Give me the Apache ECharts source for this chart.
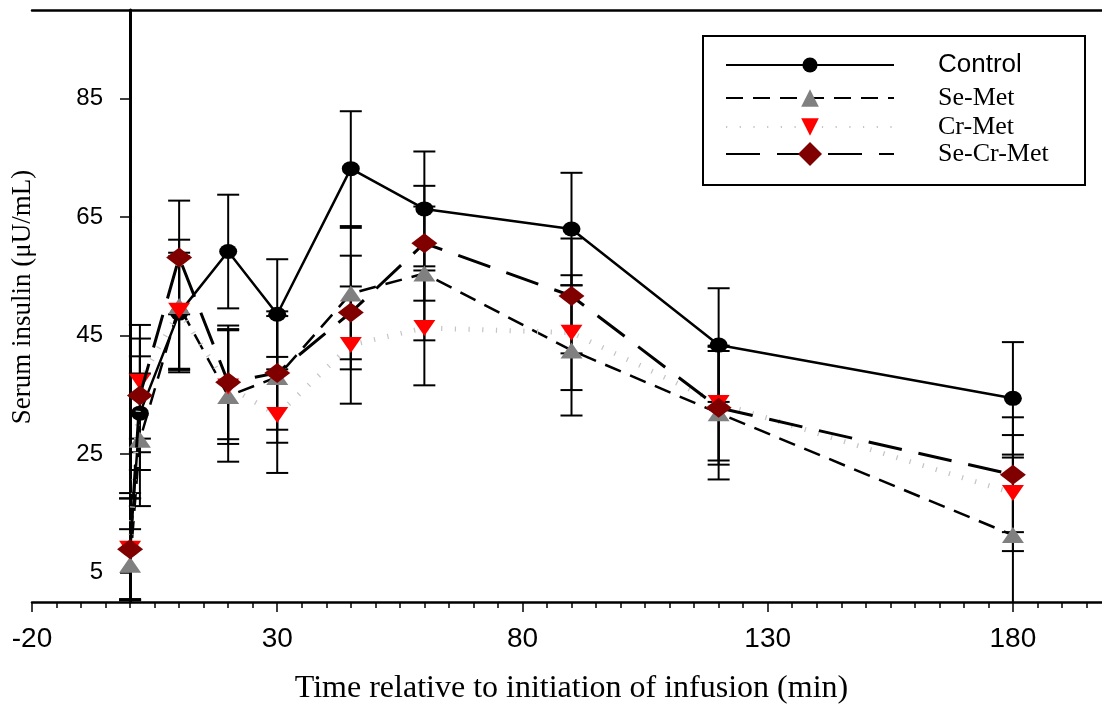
<!DOCTYPE html>
<html>
<head>
<meta charset="utf-8">
<title>Serum insulin</title>
<script src="https://cdn.jsdelivr.net/npm/echarts@6/dist/echarts.min.js"></script>
<style>
  html, body { margin: 0; padding: 0; background: #fff; }
  #chart { width: 1102px; height: 704px; }
</style>
</head>
<body>
<div id="chart"></div>
<script>
// sampling times (min)
const times = [0, 2, 10, 20, 30, 45, 60, 90, 120, 180]

// means and SEM
const control = [9.0, 31.9, 48.8, 59.2, 48.6, 73.2, 66.4, 63.0, 43.4, 34.4]
const controlSem = [9.4, 9.6, 9.6, 9.6, 9.3, 9.7, 9.7, 9.5, 9.6, 9.5]
const seMet = [6.3, 27.4, 50.0, 34.8, 38.0, 52.1, 55.5, 42.5, 31.9, 11.3]
const seMetSem = [6.0, 11.2, 11.2, 11.1, 11.1, 11.1, 11.3, 11.0, 11.2, 13.1]
const crMet = [9.0, 37.2, 49.2, 36.4, 31.6, 43.4, 46.3, 45.5, 33.6, 18.4]
const crMetSem = [8.5, 9.6, 9.8, 9.7, 9.8, 9.9, 9.7, 9.7, 9.7, 9.8]
const seCrMet = [8.9, 34.9, 58.2, 37.1, 38.7, 48.9, 60.6, 51.7, 32.8, 21.5]
const seCrMetSem = [8.6, 9.6, 9.6, 9.6, 9.6, 9.6, 9.7, 9.7, 9.6, 9.7]

// tick labels
const xTicks = [-20, 30, 80, 130, 180]
const yTicks = [5, 25, 45, 65, 85]

const chart = echarts.init(document.getElementById('chart'))

const pairs = vals => times.map((t, i) => [t, vals[i]])
const errs = (vals, sem) => times.map((t, i) => [t, vals[i] - sem[i], vals[i] + sem[i]])

// vertical bar with caps at both ends
function renderErr (params, api) {
  const x = api.value(0)
  const lo = api.coord([x, api.value(1)])
  const hi = api.coord([x, api.value(2)])
  const half = 11
  const style = { stroke: '#000', lineWidth: 2 }
  return {
    type: 'group',
    children: [
      { type: 'line', shape: { x1: lo[0], y1: lo[1], x2: hi[0], y2: hi[1] }, style },
      { type: 'line', shape: { x1: hi[0] - half, y1: hi[1], x2: hi[0] + half, y2: hi[1] }, style },
      { type: 'line', shape: { x1: lo[0] - half, y1: lo[1], x2: lo[0] + half, y2: lo[1] }, style }
    ]
  }
}

function errSeries (vals, sem) {
  return {
    type: 'custom',
    renderItem: renderErr,
    encode: { x: 0, y: [1, 2] },
    data: errs(vals, sem),
    clip: true,
    z: 1,
    silent: true
  }
}

const serif = "'Liberation Serif', 'Times New Roman', serif"
const sans = "'Liberation Sans', Arial, sans-serif"

function legendAt (name, top, font, size) {
  return {
    data: [name],
    left: 725,
    top: top,
    padding: 0,
    itemWidth: 168,
    itemHeight: size,
    selectedMode: false,
    textStyle: { fontFamily: font, fontSize: 26, color: '#000', padding: [0, 0, 0, 39] }
  }
}

const option = {
  animation: false,
  backgroundColor: '#fff',
  grid: { left: 32, right: -9, top: 10, bottom: 102, outerBoundsMode: 'none' },
  legend: [
    legendAt('Control', 52, sans, 19),
    legendAt('Se-Met', 85, serif, 22),
    legendAt('Cr-Met', 114, serif, 22),
    legendAt('Se-Cr-Met', 141, serif, 30)
  ],
  graphic: [{
    type: 'rect',
    shape: { x: 703, y: 36, width: 382, height: 149 },
    style: { fill: 'none', stroke: '#000', lineWidth: 2 }
  }],
  xAxis: [
    {
      // minor ticks every 5 min
      type: 'value',
      min: -20,
      max: 200,
      interval: 5,
      position: 'bottom',
      axisLine: { onZero: false, lineStyle: { color: '#000', width: 2.5 } },
      axisTick: { length: 6, lineStyle: { color: '#000', width: 1.5 } },
      axisLabel: { show: false },
      splitLine: { show: false },
      name: 'Time relative to initiation of infusion (min)',
      nameLocation: 'middle',
      nameGap: 71,
      nameTextStyle: { fontFamily: serif, fontSize: 32, color: '#000' }
    },
    {
      type: 'value',
      min: -20,
      max: 200,
      position: 'bottom',
      axisLine: { show: false, onZero: false },
      axisTick: { customValues: xTicks, length: 10, lineStyle: { color: '#000', width: 1.5 } },
      axisLabel: { customValues: xTicks, margin: 23, fontFamily: sans, fontSize: 28, color: '#000' },
      splitLine: { show: false }
    },
    {
      // top frame line
      type: 'value',
      min: -20,
      max: 200,
      position: 'top',
      axisLine: { onZero: false, lineStyle: { color: '#000', width: 2.5 } },
      axisTick: { show: false },
      axisLabel: { show: false },
      splitLine: { show: false }
    }
  ],
  yAxis: {
    type: 'value',
    min: 0,
    max: 100,
    // axis drawn at time 0
    offset: -98,
    axisLine: { onZero: false, lineStyle: { color: '#000', width: 3 } },
    axisTick: { customValues: yTicks, length: 10, lineStyle: { color: '#000', width: 1.5 } },
    axisLabel: { customValues: yTicks, margin: 27, fontFamily: sans, fontSize: 24, color: '#000' },
    splitLine: { show: false },
    name: 'Serum insulin (μU/mL)',
    nameLocation: 'middle',
    nameGap: 94,
    nameTextStyle: { fontFamily: serif, fontSize: 27, color: '#000', padding: [0, 0, 0, 18] }
  },
  series: [
    errSeries(control, controlSem),
    errSeries(seMet, seMetSem),
    errSeries(crMet, crMetSem),
    errSeries(seCrMet, seCrMetSem),
    {
      name: 'Control',
      type: 'line',
      data: pairs(control),
      symbol: 'circle',
      symbolSize: [18, 15],
      itemStyle: { color: '#000' },
      lineStyle: { color: '#000', width: 2.5 },
      z: 3
    },
    {
      name: 'Se-Met',
      type: 'line',
      data: pairs(seMet),
      symbol: 'triangle',
      symbolSize: [22, 16],
      itemStyle: { color: '#808080' },
      lineStyle: { color: '#000', width: 2.5, type: [17, 10] },
      z: 4
    },
    {
      name: 'Cr-Met',
      type: 'line',
      data: pairs(crMet),
      symbol: 'triangle',
      symbolRotate: 180,
      symbolSize: [22, 16],
      itemStyle: { color: '#ff0000' },
      lineStyle: { color: '#c4c4c4', width: 5, type: [1.2, 12.5] },
      z: 5
    },
    {
      name: 'Se-Cr-Met',
      type: 'line',
      data: pairs(seCrMet),
      symbol: 'diamond',
      symbolSize: [26, 20],
      itemStyle: { color: '#800000' },
      lineStyle: { color: '#000', width: 3, type: [34, 17] },
      z: 6
    }
  ]
}

chart.setOption(option)
</script>
</body>
</html>
